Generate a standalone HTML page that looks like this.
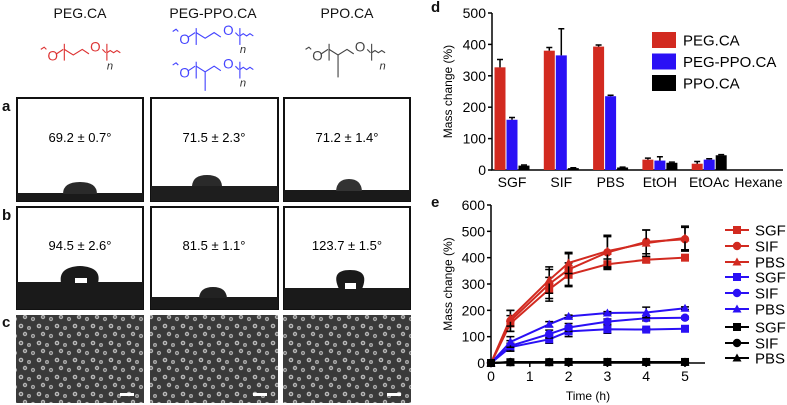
<!DOCTYPE html>
<html><head><meta charset="utf-8"><style>
html,body{margin:0;padding:0;background:#fff;width:787px;height:405px;overflow:hidden}
svg{display:block;font-family:"Liberation Sans",Arial,sans-serif}
</style></head><body>
<svg id="fig" width="787" height="405" viewBox="0 0 787 405">
<defs>
<pattern id="sem" width="18" height="17" patternUnits="userSpaceOnUse">
<rect width="18" height="17" fill="#3a3a3a"/>
<circle cx="3" cy="3" r="2.3" fill="#bbb"/><circle cx="3" cy="3" r="1" fill="#555"/>
<circle cx="11" cy="5" r="2" fill="#aaa"/><circle cx="11" cy="5" r="0.8" fill="#555"/>
<circle cx="7" cy="11" r="2.2" fill="#b5b5b5"/><circle cx="7" cy="11" r="0.9" fill="#555"/>
<circle cx="15" cy="13" r="2.1" fill="#aaa"/><circle cx="15" cy="13" r="0.9" fill="#555"/>
</pattern>
</defs>
<g font-size="14" text-anchor="middle" fill="#111">
<text x="80" y="18">PEG.CA</text>
<text x="213" y="18">PEG-PPO.CA</text>
<text x="347" y="18">PPO.CA</text>
</g>
<g stroke="#d33" fill="none" stroke-width="1" transform="translate(80,55) scale(1.12) translate(-76,-55)">
<path d="M41,50 l3,-2 l2,2"/><text x="47" y="60" fill="#d33" stroke="none" font-size="12">O</text>
<path d="M55,54 l6,-4"/><path d="M62,45 v15"/><path d="M62,50 l8,5 l8,-5 l6,4"/>
<text x="85" y="52" fill="#d33" stroke="none" font-size="12">O</text><path d="M96,50 l3,3"/><path d="M100,45 v15"/>
<path d="M100,53 l3,-2 l3,2 l3,-2 l3,2"/><text x="100" y="68" fill="#333" stroke="none" font-size="10" font-style="italic">n</text>
</g>
<g stroke="#44f" fill="none" stroke-width="1" transform="translate(213,55) scale(1.12) translate(-209,-55)">
<path d="M173,34 l3,-2 l2,2"/><text x="179" y="45" fill="#44f" stroke="none" font-size="12">O</text>
<path d="M187,39 l6,-4"/><path d="M194,31 v15"/><path d="M194,35 l8,5 l8,-5 l6,4"/>
<text x="218" y="37" fill="#44f" stroke="none" font-size="12">O</text><path d="M229,35 l3,3"/><path d="M233,31 v15"/>
<path d="M233,38 l3,-2 l3,2 l3,-2 l3,2"/><text x="233" y="53" fill="#333" stroke="none" font-size="10" font-style="italic">n</text>
<path d="M173,64 l3,-2 l2,2"/><text x="179" y="75" fill="#44f" stroke="none" font-size="12">O</text>
<path d="M187,69 l6,-4"/><path d="M194,61 v15"/><path d="M194,65 l8,5 l8,-5 l6,4"/><path d="M202,70 v17"/>
<text x="218" y="67" fill="#44f" stroke="none" font-size="12">O</text><path d="M229,65 l3,3"/><path d="M233,61 v15"/>
<path d="M233,68 l3,-2 l3,2 l3,-2 l3,2"/><text x="233" y="83" fill="#333" stroke="none" font-size="10" font-style="italic">n</text>
</g>
<g stroke="#444" fill="none" stroke-width="1" transform="translate(347,55) scale(1.12) translate(-343,-55)">
<path d="M306,50 l3,-2 l2,2"/><text x="312" y="60" fill="#444" stroke="none" font-size="12">O</text>
<path d="M320,54 l6,-4"/><path d="M327,45 v15"/><path d="M327,50 l8,5 l8,-5 l6,4"/><path d="M335,55 v20"/>
<text x="350" y="52" fill="#444" stroke="none" font-size="12">O</text><path d="M361,50 l3,3"/><path d="M365,45 v15"/>
<path d="M365,53 l3,-2 l3,2 l3,-2 l3,2"/><text x="372" y="68" fill="#333" stroke="none" font-size="10" font-style="italic">n</text>
</g>
<g font-size="15" font-weight="bold" fill="#111">
<text x="2" y="111">a</text><text x="2" y="220">b</text><text x="2" y="327">c</text>
<text x="431" y="12">d</text><text x="431" y="207">e</text>
</g>
<g>
<rect x="17" y="98" width="126" height="103" fill="#fff" stroke="#111" stroke-width="2"/>
<rect x="17" y="193" width="126" height="8" fill="#1a1a1a"/>
<path d="M63,194 Q63,182 80,182 Q97,182 97,194 Z" fill="#2a2a2a"/>
<text x="80" y="142" text-anchor="middle" font-size="13">69.2 ± 0.7°</text>
<rect x="151" y="98" width="127" height="103" fill="#fff" stroke="#111" stroke-width="2"/>
<rect x="151" y="186" width="127" height="15" fill="#1e1e1e"/>
<path d="M192,186 Q193,175 207,175 Q221,175 222,186 Z" fill="#2a2a2a"/>
<text x="214" y="142" text-anchor="middle" font-size="13">71.5 ± 2.3°</text>
<rect x="284" y="98" width="126" height="103" fill="#fff" stroke="#111" stroke-width="2"/>
<rect x="284" y="190" width="126" height="11" fill="#1a1a1a"/>
<path d="M336,191 Q337,179 349,179 Q361,179 362,191 Z" fill="#333"/>
<text x="347" y="142" text-anchor="middle" font-size="13">71.2 ± 1.4°</text>
</g>
<g>
<rect x="17" y="207" width="126" height="102" fill="#fff" stroke="#111" stroke-width="2"/>
<rect x="17" y="282" width="126" height="27" fill="#1a1a1a"/>
<path d="M61,283 Q58,267 80,266 Q102,267 98,283 Z" fill="#1a1a1a"/>
<rect x="75" y="278" width="12" height="5" fill="#fff"/>
<text x="80" y="250" text-anchor="middle" font-size="13">94.5 ± 2.6°</text>
<rect x="151" y="207" width="127" height="102" fill="#fff" stroke="#111" stroke-width="2"/>
<rect x="151" y="297" width="127" height="12" fill="#1a1a1a"/>
<path d="M199,298 Q200,287 213,287 Q226,287 227,298 Z" fill="#222"/>
<text x="214" y="250" text-anchor="middle" font-size="13">81.5 ± 1.1°</text>
<rect x="284" y="207" width="126" height="102" fill="#fff" stroke="#111" stroke-width="2"/>
<rect x="284" y="288" width="126" height="21" fill="#1a1a1a"/>
<path d="M339,289 Q330,270 350,270 Q370,270 362,289 Z" fill="#1a1a1a"/>
<rect x="345" y="283" width="11" height="6" fill="#fff"/>
<text x="347" y="250" text-anchor="middle" font-size="13">123.7 ± 1.5°</text>
</g>
<g>
<rect x="16" y="315" width="128" height="88" fill="url(#sem)"/>
<rect x="120" y="393" width="14" height="3" fill="#fff"/>
<rect x="150" y="315" width="128" height="88" fill="url(#sem)"/>
<rect x="253" y="393" width="14" height="3" fill="#fff"/>
<rect x="283" y="315" width="128" height="88" fill="url(#sem)"/>
<rect x="387" y="393" width="14" height="3" fill="#fff"/>
</g>
<g id="chartD"></g>
<g id="chartE"></g>
</svg>
<script>
const NS="http://www.w3.org/2000/svg";
const dCategories=["SGF","SIF","PBS","EtOH","EtOAc","Hexane"];
const dSeriesNames=["PEG.CA","PEG-PPO.CA","PPO.CA"];
const dPeg=[327,380,393,33,20,0];
const dPegErr=[25,10,5,5,7,0];
const dPegPpo=[160,365,235,30,33,0];
const dPegPpoErr=[7,85,3,12,3,0];
const dPpo=[14,6,8,23,47,0];
const dPpoErr=[2,1,1,2,2,0];
const dTicks=[0,100,200,300,400,500];
const eTimes=[0,0.5,1.5,2,3,4,5];
const eXTicks=[0,1,2,3,4,5];
const eYTicks=[0,100,200,300,400,500,600];
const eLegend=["SGF","SIF","PBS","SGF","SIF","PBS","SGF","SIF","PBS"];
const eRedSGF=[0,150,280,335,375,392,400];
const eRedSGFErr=[0,30,45,45,20,10,5];
const eRedSIF=[0,160,300,355,420,460,470];
const eRedSIFErr=[0,40,55,60,60,45,45];
const eRedPBS=[0,170,315,380,425,455,475];
const eRedPBSErr=[0,30,50,40,60,50,45];
const eBlueSGF=[0,60,90,120,128,127,130];
const eBlueSGFErr=[0,15,15,20,15,5,5];
const eBlueSIF=[0,65,110,135,157,170,172];
const eBlueSIFErr=[0,20,15,15,10,10,5];
const eBluePBS=[0,80,147,177,190,192,208];
const eBluePBSErr=[0,20,10,5,5,20,5];
const eBlackSGF=[0,3,3,4,4,4,4];
const eBlackSIF=[0,3,3,3,3,3,3];
const eBlackPBS=[0,4,4,4,4,4,4];

function mk(tag,attrs,parent){const e=document.createElementNS(NS,tag);for(const k in attrs)e.setAttribute(k,attrs[k]);parent.appendChild(e);return e;}
const colors=["#d22a20","#2a10f5","#000"];

(function(){
const g=document.getElementById("chartD");
const x0=492,xEnd=783,y0=170,yTop=13,yMax=500;
const y=v=>y0-(v/yMax)*(y0-yTop);
const cx=i=>512+i*49.3;
const ax=mk("path",{d:`M${x0},${yTop} V${y0} H${xEnd}`,stroke:"#000","stroke-width":1.5,fill:"none"},g);


dTicks.forEach(t=>{
 const tk=mk("line",{x1:x0-4,x2:x0,y1:y(t),y2:y(t),stroke:"#000","stroke-width":1.5},g);
 
 
 const tl=mk("text",{x:x0-6,y:y(t)+5,"text-anchor":"end","font-size":14},g);tl.textContent=t;
 
 
});
const yl=mk("text",{x:0,y:0,transform:`translate(452,${(y0+yTop)/2}) rotate(-90)`,"text-anchor":"middle","font-size":12},g);yl.textContent="Mass change (%)";


const series=[[dPeg,dPegErr],[dPegPpo,dPegPpoErr],[dPpo,dPpoErr]];
dCategories.forEach((c,i)=>{
 const tl=mk("text",{x:cx(i),y:187,"text-anchor":"middle","font-size":14},g);tl.textContent=c;
 
 
 series.forEach((s,j)=>{
  const v=s[0][i],e=s[1][i];if(v<=0)return;
  const bx=cx(i)-17.5+j*12;
  const b=mk("rect",{x:bx,y:y(v),width:11,height:y0-y(v),fill:colors[j]},g);
  
  
  if(e>0){const ex=bx+5.5;
   const eb=mk("path",{d:`M${ex},${y(v)} V${y(v+e)} M${ex-3},${y(v+e)} H${ex+3}`,stroke:"#000","stroke-width":1.5},g);
   
   }
 });
});
dSeriesNames.forEach((n,j)=>{
 const ly=40+j*21.5;
 const r=mk("rect",{x:652,y:ly-8,width:24,height:16,fill:colors[j]},g);
 
 
 const t=mk("text",{x:683,y:ly+5.5,"font-size":15},g);t.textContent=n;
 
 
});
})();

(function(){
const g=document.getElementById("chartE");
const x0=491,xEnd=705,y0=363,yTop=205;
const x=t=>x0+t*(685-x0)/5;
const y=v=>y0-(v/600)*(y0-yTop);
const ax=mk("path",{d:`M${x0},${yTop} V${y0} H${xEnd}`,stroke:"#000","stroke-width":1.5,fill:"none"},g);


eYTicks.forEach(t=>{
 const tk=mk("line",{x1:x0-4,x2:x0,y1:y(t),y2:y(t),stroke:"#000","stroke-width":1.5},g);
 
 
 const tl=mk("text",{x:x0-6,y:y(t)+5,"text-anchor":"end","font-size":14},g);tl.textContent=t;
 
 
});
eXTicks.forEach(t=>{
 const tk=mk("line",{x1:x(t),x2:x(t),y1:y0,y2:y0+4,stroke:"#000","stroke-width":1.5},g);
 
 
 const tl=mk("text",{x:x(t),y:381,"text-anchor":"middle","font-size":14},g);tl.textContent=t;
 
 
});
const yl=mk("text",{x:0,y:0,transform:`translate(452,${(y0+yTop)/2}) rotate(-90)`,"text-anchor":"middle","font-size":12},g);yl.textContent="Mass change (%)";


const xl=mk("text",{x:x(2.5),y:400,"text-anchor":"middle","font-size":12},g);xl.textContent="Time (h)";


const lines=[[eRedSGF,eRedSGFErr,0,"sq"],[eRedSIF,eRedSIFErr,0,"ci"],[eRedPBS,eRedPBSErr,0,"tr"],
[eBlueSGF,eBlueSGFErr,1,"sq"],[eBlueSIF,eBlueSIFErr,1,"ci"],[eBluePBS,eBluePBSErr,1,"tr"],
[eBlackSGF,null,2,"sq"],[eBlackSIF,null,2,"ci"],[eBlackPBS,null,2,"tr"]];
function marker(px,py,shape,col){
 let m;
 if(shape==="sq")m=mk("rect",{x:px-4,y:py-4,width:8,height:8,fill:col},g);
 else if(shape==="ci")m=mk("circle",{cx:px,cy:py,r:4.2,fill:col},g);
 else m=mk("path",{d:`M${px},${py-4.5} L${px+4.5},${py+3.5} L${px-4.5},${py+3.5} Z`,fill:col},g);
 
 
}
lines.forEach(([vals,errs,ci,shape])=>{
 const col=colors[ci];
 const l=mk("polyline",{points:eTimes.map((t,i)=>x(t)+","+y(vals[i])).join(" "),fill:"none",stroke:col,"stroke-width":2},g);
 
 
 if(errs)eTimes.forEach((t,i)=>{const e=errs[i];if(!e)return;const px=x(t);
  const eb=mk("path",{d:`M${px},${y(vals[i]-e)} V${y(vals[i]+e)} M${px-4},${y(vals[i]+e)} H${px+4} M${px-4},${y(vals[i]-e)} H${px+4}`,stroke:"#000","stroke-width":1.5},g);
  
  });
 eTimes.forEach((t,i)=>marker(x(t),y(vals[i]),shape,col));
});
const ly=[230,246,262,277,293,309,327,343,358];
eLegend.forEach((n,i)=>{
 const col=colors[Math.floor(i/3)],shape=["sq","ci","tr"][i%3];
 const ln=mk("line",{x1:725,x2:749,y1:ly[i],y2:ly[i],stroke:col,"stroke-width":2},g);
 
 
 marker(737,ly[i],shape,col);
 const t=mk("text",{x:755,y:ly[i]+5.5,"font-size":15},g);t.textContent=n;
 
 
});
})();
</script>
</body></html>
